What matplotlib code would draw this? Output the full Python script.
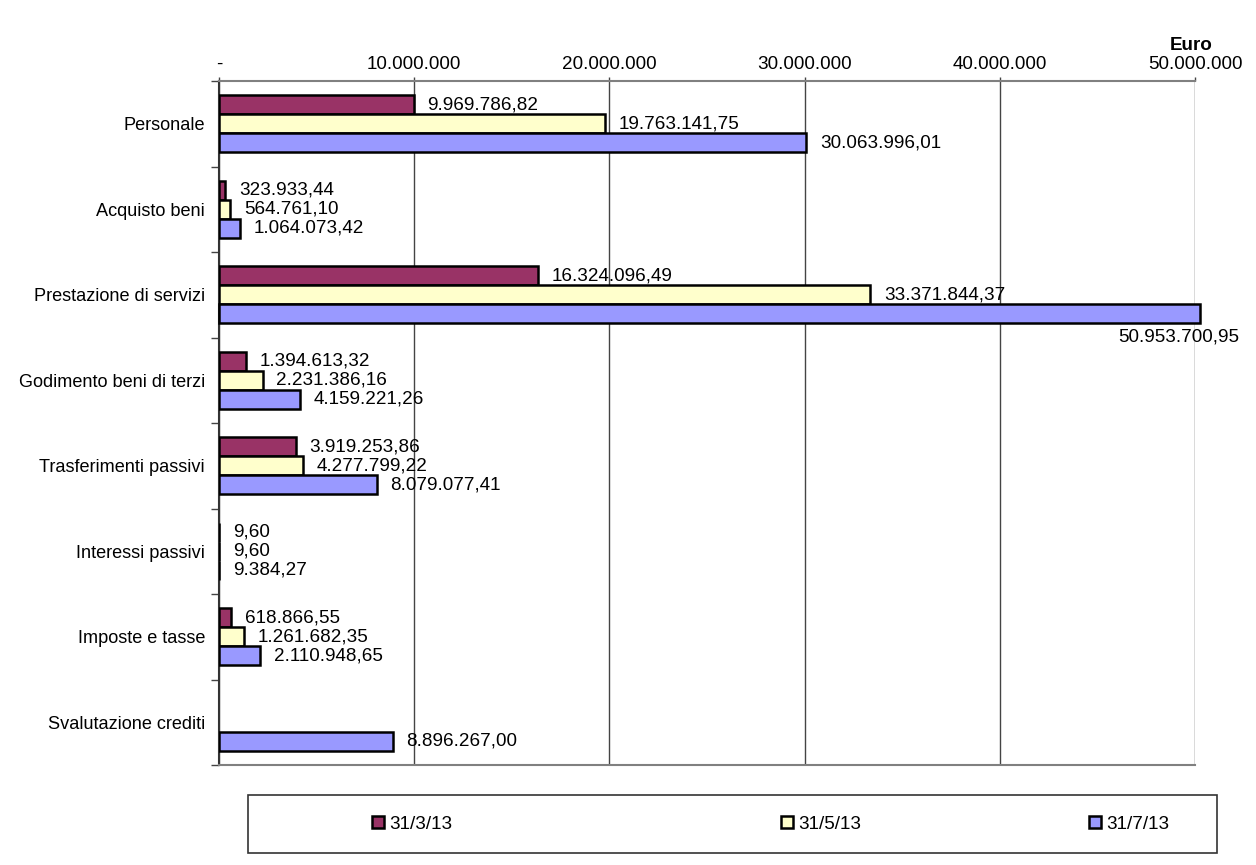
import matplotlib.pyplot as plt
from matplotlib.lines import Line2D
from matplotlib.patches import Rectangle

plt.rcParams['font.family'] = ['Liberation Sans', 'DejaVu Sans']

categories = ['Personale', 'Acquisto beni', 'Prestazione di servizi',
              'Godimento beni di terzi', 'Trasferimenti passivi',
              'Interessi passivi', 'Imposte e tasse', 'Svalutazione crediti']
series_names = ['31/3/13', '31/5/13', '31/7/13']
mar13 = [9969786.82, 323933.44, 16324096.49, 1394613.32, 3919253.86, 9.60, 618866.55, None]
mag13 = [19763141.75, 564761.10, 33371844.37, 2231386.16, 4277799.22, 9.60, 1261682.35, None]
lug13 = [30063996.01, 1064073.42, 50953700.95, 4159221.26, 8079077.41, 9384.27, 2110948.65, 8896267.00]
x_ticks = [0, 10000000, 20000000, 30000000, 40000000, 50000000]
colors = ['#993366', '#FFFFCC', '#9999FF']


def fmt_it(v):
  s = f'{v:,.2f}'
  return s.replace(',', 'X').replace('.', ',').replace('X', '.')


def fmt_tick(v):
  if v == 0:
    return '-'
  return f'{int(v):,}'.replace(',', '.')


fig = plt.figure(figsize=(12.56, 8.65), dpi=100)
ax = fig.add_axes([219/1256, 100/865, 976/1256, 684/865])
fs = 13.6
xmax = 50000000
bh = 0.222

for k, vals in enumerate([mar13, mag13, lug13]):
  for i, v in enumerate(vals):
    if v is None:
      continue
    y = i + (k - 1) * bh
    if v > xmax:
      # bar runs off the axis: draw it just past the edge, label under its end
      ax.barh(y, xmax * 1.005, height=bh, color=colors[k], edgecolor='black', linewidth=1.8, zorder=3, clip_on=False)
      ax.annotate(fmt_it(v), xy=(xmax, y), xytext=(32, -17), textcoords='offset points',
                  ha='right', va='center', fontsize=fs, annotation_clip=False, zorder=4)
    else:
      ax.barh(y, v, height=bh, color=colors[k], edgecolor='black', linewidth=1.8, zorder=3)
      ax.annotate(fmt_it(v), xy=(v, y), xytext=(10, 0), textcoords='offset points',
                  ha='left', va='center', fontsize=fs, zorder=4)

ax.set_xlim(0, xmax)
ax.set_ylim(len(categories) - 0.5, -0.5)
ax.xaxis.tick_top()
ax.set_xticks(x_ticks)
ax.set_xticklabels([fmt_tick(t) for t in x_ticks], fontsize=fs)
ax.tick_params(axis='x', length=3, width=1, color='#444444', pad=3)
ax.grid(axis='x', color='#444444', linewidth=1, zorder=0)

ax.set_yticks([i - 0.5 for i in range(len(categories) + 1)])
ax.set_yticklabels([])
ax.set_yticks(range(len(categories)), minor=True)
ax.set_yticklabels(categories, minor=True, fontsize=13.1)
ax.tick_params(axis='y', which='major', length=6, width=1, color='#444444')
ax.tick_params(axis='y', which='minor', length=0, pad=10)

for side in ['top', 'bottom']:
  ax.spines[side].set_color('#808080')
  ax.spines[side].set_linewidth(1.5)
ax.spines['left'].set_color('#333333')
ax.spines['left'].set_linewidth(1.5)
ax.spines['right'].set_visible(False)

fig.text(1213/1256, 1 - 45/865, 'Euro', ha='right', va='center', fontsize=fs, fontweight='bold')

fig.patches.append(Rectangle((248/1256, 12/865), 969/1256, 58/865, transform=fig.transFigure,
                             facecolor='white', edgecolor='#333333', linewidth=1.2))
leg_x = [361, 770, 1078]
for k, name in enumerate(series_names):
  h = Line2D([], [], marker='s', linestyle='none', markersize=8, markerfacecolor=colors[k],
             markeredgecolor='black', markeredgewidth=1.8)
  fig.legend([h], [name], loc='center left', bbox_to_anchor=(leg_x[k]/1256, 41/865),
             frameon=False, fontsize=fs, handlelength=0.8, handletextpad=0.2, borderpad=0)

fig.savefig('out.png', dpi=100)
